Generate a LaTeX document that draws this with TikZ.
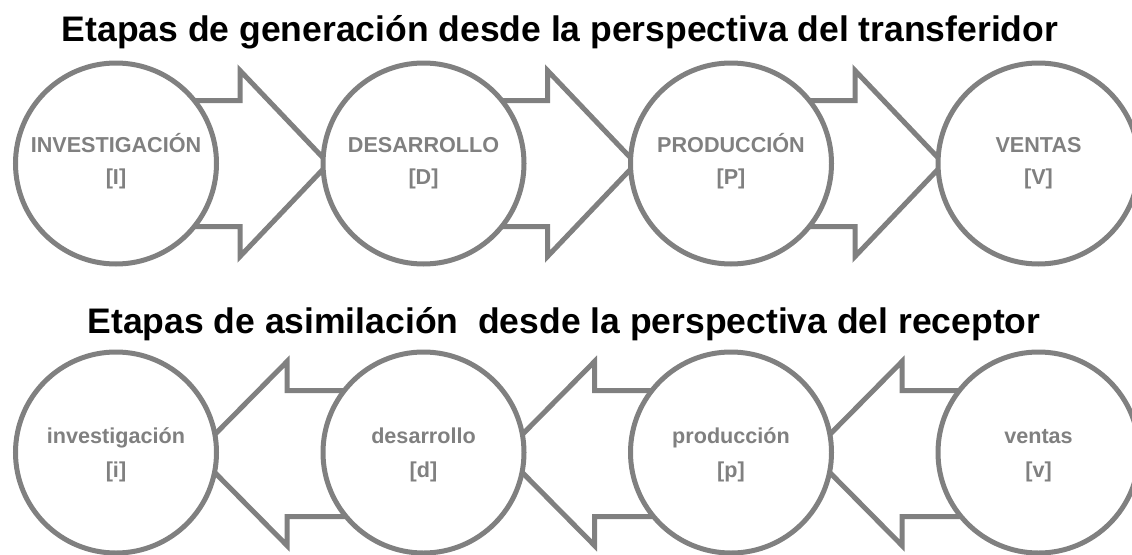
\documentclass[tikz,border=0pt]{standalone}
\usepackage{fontspec}
\setmainfont{Liberation Sans}
\usetikzlibrary{calc,backgrounds}
\definecolor{stagegray}{HTML}{808080}
% two-line stage labels with fixed baselines
\newcommand\toplabel[2]{\rule{0pt}{22pt}#1\\\rule[-12.4pt]{0pt}{12.4pt}#2}
\newcommand\botlabel[2]{\rule{0pt}{24pt}#1\\\rule[-8pt]{0pt}{8pt}#2}
\begin{document}
\begin{tikzpicture}[x=1pt,y=-1pt,
  stage/.style={circle,draw=stagegray,line width=5pt,fill=white,minimum size=201pt,inner sep=0pt,
    text=stagegray,align=center},
  toprow/.style={stage,font=\fontsize{21.6}{32}\selectfont\bfseries},
  botrow/.style={stage,font=\fontsize{21.6}{34}\selectfont\bfseries},
  blockarrow/.style={draw=stagegray,line width=5pt,fill=white,line join=miter},
  title/.style={font=\fontsize{35.5}{40}\selectfont\bfseries,anchor=base,inner sep=0pt,text=black}]
\clip (0,0) rectangle (1132,554);
% titles
\node[title] (t1) at (560,41) {Etapas de generación desde la perspectiva del transferidor};
\node[title] (t2) at (564,333) {Etapas de asimilación~ desde la perspectiva del receptor};
% top row
\node[toprow] (I) at (116,163.5) {\toplabel{INVESTIGACIÓN}{[I]}};
\node[toprow] (D) at (423.5,163.5) {\toplabel{DESARROLLO}{[D]}};
\node[toprow] (P) at (731,163.5) {\toplabel{PRODUCCIÓN}{[P]}};
\node[toprow] (V) at (1038.5,163.5) {\toplabel{VENTAS}{[V]}};
% bottom row
\node[botrow] (i) at (116,452.5) {\botlabel{investigación}{[i]}};
\node[botrow] (d) at (423.5,452.5) {\botlabel{desarrollo}{[d]}};
\node[botrow] (p) at (731,452.5) {\botlabel{producción}{[p]}};
\node[botrow] (v) at (1038.5,452.5) {\botlabel{ventas}{[v]}};
\begin{scope}[on background layer]
\foreach \a/\b in {I/D,D/P,P/V}{
  \draw[blockarrow] ($(\a.center)+(0,-63)$) -- ($(\b.center)+(-183.5,-63)$)
    -- ($(\b.center)+(-183.5,-93)$) -- ($(\b.center)+(-95,0)$)
    -- ($(\b.center)+(-183.5,93)$) -- ($(\b.center)+(-183.5,63)$)
    -- ($(\a.center)+(0,63)$) -- cycle;
}
\foreach \a/\b in {d/i,p/d,v/p}{
  \draw[blockarrow] ($(\a.center)+(0,-62)$) -- ($(\b.center)+(171,-62)$)
    -- ($(\b.center)+(171,-91)$) -- ($(\b.center)+(80,1)$)
    -- ($(\b.center)+(171,93)$) -- ($(\b.center)+(171,64)$)
    -- ($(\a.center)+(0,64)$) -- cycle;
}
\end{scope}
\end{tikzpicture}
\end{document}
